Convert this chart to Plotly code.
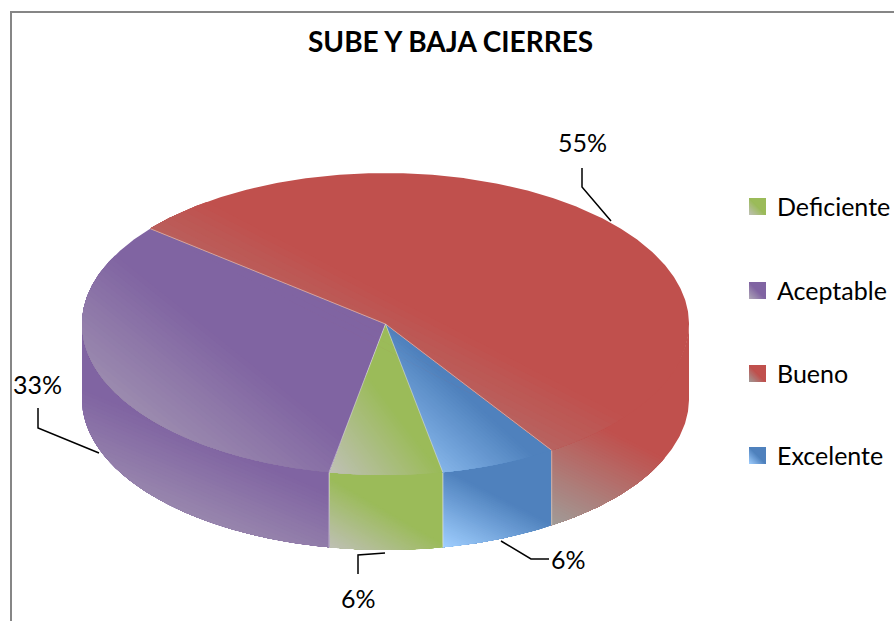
import numpy as np
import plotly.graph_objects as go

# ---- data ----
categories = ["Excelente", "Deficiente", "Aceptable", "Bueno"]   # clockwise from the start angle
values = [6.2, 6.0, 32.9, 54.9]
legend_order = ["Deficiente", "Aceptable", "Bueno", "Excelente"]
solid_colors = {"Excelente": "#4f81bd", "Bueno": "#c0504d", "Aceptable": "#8064a2", "Deficiente": "#9bbb59"}
light_colors = {"Excelente": "#a0cfff", "Bueno": "#a09c98", "Aceptable": "#b0a8b8", "Deficiente": "#c0c0b8"}
title_text = "SUBE Y BAJA CIERRES"

# ---- layout constants ----
W, H = 894, 621
CX, CY, RX, RY, DEPTH = 385.5, 324.0, 303.5, 151.0, 75.0
START_DEG = 56.8
FONT = "Lato, Carlito, Calibri, sans-serif"
LEGEND_Y = {"Deficiente": 206.5, "Aceptable": 290.5, "Bueno": 373.5, "Excelente": 455.5}
LEGEND_X0, LEGEND_X1, LEGEND_HALF = 749, 766, 8.5
LEGEND_TEXT_X = 774.5
N_BANDS = 40
# side-wall gradient: (height of the gradient box relative to width, where the solid colour starts)
SIDE_GRAD = {"Aceptable": (0.42, 0.76), "Excelente": (0.51, 0.71), "Deficiente": (0.58, 0.55), "Bueno": (0.5, 0.9)}


def hex2rgb(h):
    return np.array([int(h[i:i + 2], 16) for i in (1, 3, 5)], float)


def clip_halfplane(poly, nx, ny, limit):
    """Keep the part of a polygon with nx*x + ny*y <= limit."""
    out = []
    n = len(poly)
    for i in range(n):
        a, b = poly[i], poly[(i + 1) % n]
        da = nx * a[0] + ny * a[1] - limit
        db = nx * b[0] + ny * b[1] - limit
        if da <= 0:
            out.append(a)
        if (da < 0 < db) or (db < 0 < da):
            r = da / (da - db)
            out.append((a[0] + r * (b[0] - a[0]), a[1] + r * (b[1] - a[1])))
    return out


def add_poly(fig, poly, color):
    xs = [p[0] for p in poly] + [poly[0][0]]
    ys = [p[1] for p in poly] + [poly[0][1]]
    fig.add_trace(go.Scatter(x=xs, y=ys, mode="lines", fill="toself", fillcolor=color,
                             line=dict(width=0), hoverinfo="skip", showlegend=False))


def gradient_face(fig, poly, solid, light, solid_at=0.5, h_frac=None):
    """Paint a face with a diagonal gradient: light at lower-left, solid past solid_at."""
    add_poly(fig, poly, solid)
    arr = np.array(poly)
    x0, x1 = arr[:, 0].min(), arr[:, 0].max()
    y0, y1 = arr[:, 1].min(), arr[:, 1].max()
    w = max(x1 - x0, 1e-6)
    h = max(y1 - y0, 1e-6) if h_frac is None else w * h_frac
    # t = ((x-x0)/w + (y1-y)/h)/2
    nx, ny = 1 / (2 * w), -1 / (2 * h)
    off = -x0 / (2 * w) + y1 / (2 * h)
    c_s, c_l = hex2rgb(solid), hex2rgb(light)
    for k in range(N_BANDS, 0, -1):
        t = solid_at * k / N_BANDS
        f = (k - 0.5) / N_BANDS
        c = c_l + (c_s - c_l) * f
        clipped = clip_halfplane(poly, nx, ny, t - off)
        if len(clipped) >= 3:
            add_poly(fig, clipped, "rgb(%d,%d,%d)" % tuple(np.round(c)))


def ell(deg, dz=0.0):
    a = np.radians(deg)
    return (CX + RX * np.cos(a), CY + RY * np.sin(a) + dz)


# slice angles from the values
total = sum(values)
edges = START_DEG + np.concatenate([[0], np.cumsum(values)]) * 360.0 / total
slices = [(c, edges[i], edges[i + 1]) for i, c in enumerate(categories)]

fig = go.Figure()

# side walls (only the part facing the viewer, angle 0..180 mod 360)
for name, a0, a1 in slices:
    for shift in (0, -360):
        s0, s1 = max(a0 + shift, 0), min(a1 + shift, 180)
        if s1 <= s0:
            continue
        ang = np.linspace(s0, s1, max(int((s1 - s0) * 2), 4))
        # upper edge tucked under the top face so no seam shows through
        poly = [ell(d, -1.5) for d in ang] + [ell(d, DEPTH) for d in ang[::-1]]
        h_frac, solid_at = SIDE_GRAD[name]
        gradient_face(fig, poly, solid_colors[name], light_colors[name], solid_at, h_frac)
        for d in (s0, s1):
            if 0 < d < 180:
                p, q = ell(d), ell(d, DEPTH)
                fig.add_trace(go.Scatter(x=[p[0], q[0]], y=[p[1], q[1]], mode="lines",
                                         line=dict(color="rgba(225,225,225,0.55)", width=1),
                                         hoverinfo="skip", showlegend=False))

# top faces
for name, a0, a1 in slices:
    ang = np.linspace(a0, a1, max(int((a1 - a0) * 2), 4))
    poly = [(CX, CY)] + [ell(d) for d in ang]
    gradient_face(fig, poly, solid_colors[name], light_colors[name])
# thin light seams between top faces
for e in edges[:-1]:
    p = ell(e)
    fig.add_trace(go.Scatter(x=[CX, p[0]], y=[CY, p[1]], mode="lines",
                             line=dict(color="rgba(225,225,225,0.55)", width=1),
                             hoverinfo="skip", showlegend=False))

# leader lines and data labels
leaders = {
    "Bueno": ([582, 582, 611], [168, 187, 221], (582, 142)),
    "Aceptable": ([38, 38, 99], [408, 428, 453], (37, 384)),
    "Deficiente": ([385, 358, 358], [553, 555, 574], (358, 598)),
    "Excelente": ([501, 531, 549], [541, 559, 559], (568, 559)),
}
for name, v in zip(categories, values):
    xs, ys, (tx, ty) = leaders[name]
    fig.add_trace(go.Scatter(x=xs, y=ys, mode="lines", line=dict(color="black", width=1.5),
                             hoverinfo="skip", showlegend=False))
    fig.add_annotation(x=tx, y=ty, text=f"{round(v)}%", showarrow=False, xanchor="center", yanchor="middle",
                       font=dict(family=FONT, size=25, color="black"))

# legend
for name in legend_order:
    yc = LEGEND_Y[name]
    sq = [(LEGEND_X0, yc - LEGEND_HALF), (LEGEND_X1, yc - LEGEND_HALF),
          (LEGEND_X1, yc + LEGEND_HALF), (LEGEND_X0, yc + LEGEND_HALF)]
    gradient_face(fig, sq, solid_colors[name], light_colors[name])
    fig.add_annotation(x=LEGEND_TEXT_X, y=yc - 0.5, text=name, showarrow=False, xanchor="left", yanchor="middle",
                       font=dict(family=FONT, size=25, color="black"))

# title
fig.add_annotation(x=450, y=41, text=f"<b>{title_text}</b>", showarrow=False, xanchor="center", yanchor="middle",
                   font=dict(family=FONT, size=28, color="black"))

# chart frame (left and top edge visible)
fig.add_shape(type="line", x0=11, x1=11, y0=12, y1=H, line=dict(color="#868686", width=2))
fig.add_shape(type="line", x0=10, x1=W, y0=12, y1=12, line=dict(color="#868686", width=2))

fig.update_layout(
    width=W, height=H, margin=dict(l=0, r=0, t=0, b=0), showlegend=False,
    paper_bgcolor="white", plot_bgcolor="white",
    xaxis=dict(range=[0, W], visible=False, fixedrange=True),
    yaxis=dict(range=[H, 0], visible=False, fixedrange=True),
)
fig.write_html("out.html", config={"displayModeBar": False},
               post_script="document.body.style.margin='0';document.body.style.overflow='hidden';")
